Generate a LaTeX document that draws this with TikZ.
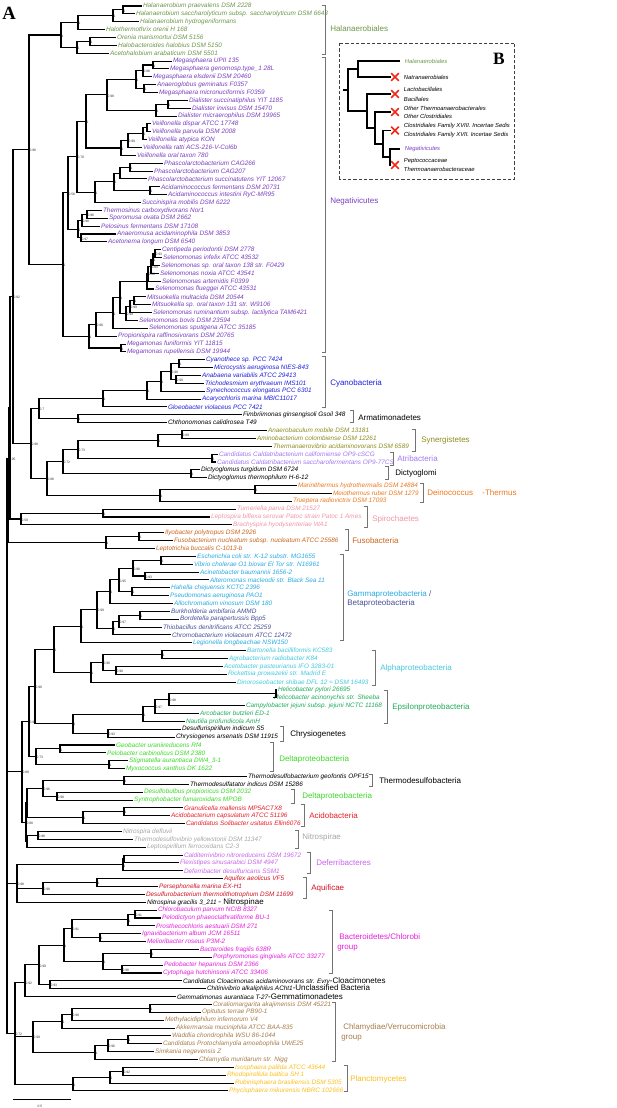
\documentclass[tikz,border=0pt]{standalone}
\usepackage{fontspec}
\setmainfont{Liberation Sans}
\newfontfamily\panelfont{Liberation Serif}
\usetikzlibrary{shapes.misc}
\definecolor{cHal}{RGB}{108,150,72}
\definecolor{cNeg}{RGB}{120,62,190}
\definecolor{cCya}{RGB}{30,30,220}
\definecolor{cSyn}{RGB}{140,140,30}
\definecolor{cAtr}{RGB}{160,120,240}
\definecolor{cDei}{RGB}{235,120,30}
\definecolor{cSpi}{RGB}{240,150,165}
\definecolor{cFus}{RGB}{200,100,30}
\definecolor{cGam}{RGB}{40,170,225}
\definecolor{cBet}{RGB}{70,80,150}
\definecolor{cAlp}{RGB}{70,200,220}
\definecolor{cEps}{RGB}{30,170,90}
\definecolor{cDel}{RGB}{60,215,40}
\definecolor{cAci}{RGB}{230,30,40}
\definecolor{cNit}{RGB}{165,165,165}
\definecolor{cDef}{RGB}{200,100,235}
\definecolor{cAqu}{RGB}{205,20,35}
\definecolor{cBac}{RGB}{230,30,220}
\definecolor{cChl}{RGB}{165,125,75}
\definecolor{cPla}{RGB}{250,190,30}
\definecolor{xred}{RGB}{240,40,20}
\newcommand{\grpsz}{\fontsize{6}{6}\selectfont\upshape}
\tikzset{
  branch/.style={line width=0.8pt, black},
  leaf/.style={anchor=west, inner sep=0.6pt, font=\fontsize{4.8}{4.8}\selectfont\itshape},
  bs/.style={font=\fontsize{2.5}{2.5}\selectfont, inner sep=0.2pt, yshift=-0.7pt, black!80},
  grp/.style={anchor=west, inner sep=0pt, font=\fontsize{6}{6}\selectfont},
  brk/.style={line width=0.6pt, black!55},
  inlab/.style={anchor=west, inner sep=0.5pt, font=\fontsize{4.4}{4.4}\selectfont\itshape},
  ibranch/.style={line width=1.3pt, black},
  ibox/.style={line width=0.75pt, black!75, dash pattern=on 2.5pt off 1.5pt},
  xmark/.style={cross out, draw=xred, line width=1.3pt, minimum size=4.5pt, inner sep=0pt},
  hal/.style={text=cHal}, neg/.style={text=cNeg}, cya/.style={text=cCya},
  syn/.style={text=cSyn}, atr/.style={text=cAtr}, dei/.style={text=cDei},
  spi/.style={text=cSpi}, fus/.style={text=cFus}, gam/.style={text=cGam},
  bet/.style={text=cBet}, alp/.style={text=cAlp}, eps/.style={text=cEps},
  del/.style={text=cDel}, aci/.style={text=cAci}, nit/.style={text=cNit},
  def/.style={text=cDef}, aqu/.style={text=cAqu}, bac/.style={text=cBac},
  chl/.style={text=cChl}, pla/.style={text=cPla}
}
\begin{document}
\begin{tikzpicture}[x=0.75pt, y=-5.8965pt]
\useasboundingbox (0,-0.763) rectangle (617,140.17);
\node[font=\panelfont\bfseries\fontsize{14}{14}\selectfont, inner sep=0pt] (panA) at (9,0.95) {A};

% leaves
\node[leaf,hal] (hPra) at (142,0) {Halanaerobium praevalens DSM 2228};
\node[leaf,hal] (hSac) at (135,1) {Halanaerobium saccharolyticum subsp. saccharolyticum DSM 6643};
\node[leaf,hal] (hHyd) at (139,2) {Halanaerobium hydrogeniformans};
\node[leaf,hal] (hOre) at (105,3) {Halothermothrix orenii H 168};
\node[leaf,hal] (hMar) at (116,4) {Orenia marismortui DSM 5156};
\node[leaf,hal] (hHal) at (117,5) {Halobacteroides halobius DSM 5150};
\node[leaf,hal] (hAce) at (109,6) {Acetohalobium arabaticum DSM 5501};
\node[leaf,neg] (nUPII) at (172,7) {Megasphaera UPII 135};
\node[leaf,neg] (nGen) at (169,8) {Megasphaera genomosp.type\_1 28L};
\node[leaf,neg] (nEls) at (152,9) {Megasphaera elsdenii DSM 20460};
\node[leaf,neg] (nAgl) at (156,10) {Anaeroglobus geminatus F0357};
\node[leaf,neg] (nMic) at (158,11) {Megasphaera micronuciformis F0359};
\node[leaf,neg] (nDsu) at (188,12) {Dialister succinatiphilus YIT 1185};
\node[leaf,neg] (nDin) at (191,13) {Dialister invisus DSM 15470};
\node[leaf,neg] (nDmi) at (177,14) {Dialister micraerophilus DSM 19965};
\node[leaf,neg] (nVdi) at (151,15) {Veillonella dispar ATCC 17748};
\node[leaf,neg] (nVpa) at (151,16) {Veillonella parvula DSM 2008};
\node[leaf,neg] (nVat) at (147,17) {Veillonella atypica KON};
\node[leaf,neg] (nVra) at (142,18) {Veillonella ratti ACS-216-V-Col6b};
\node[leaf,neg] (nVor) at (136,19) {Veillonella oral taxon 780};
\node[leaf,neg] (nP266) at (163,20) {Phascolarctobacterium CAG266};
\node[leaf,neg] (nP207) at (153,21) {Phascolarctobacterium CAG207};
\node[leaf,neg] (nPsu) at (147,22) {Phascolarctobacterium succinatutens YIT 12067};
\node[leaf,neg] (nAfe) at (160,23) {Acidaminococcus fermentans DSM 20731};
\node[leaf,neg] (nAin) at (167,24) {Acidaminococcus intestini RyC-MR95};
\node[leaf,neg] (nSmo) at (141,25) {Succinispira mobilis DSM 6222};
\node[leaf,neg] (nTca) at (102,26) {Thermosinus carboxydivorans Nor1};
\node[leaf,neg] (nSov) at (108,27) {Sporomusa ovata DSM 2662};
\node[leaf,neg] (nPfe) at (100,28) {Pelosinus fermentans DSM 17108};
\node[leaf,neg] (nAac) at (116,29) {Anaeromusa acidaminophila DSM 3853};
\node[leaf,neg] (nAlo) at (107,30) {Acetonema longum DSM 6540};
\node[leaf,neg] (nCpe) at (161,31) {Centipeda periodontii DSM 2778};
\node[leaf,neg] (nSin) at (162,32) {Selenomonas infelix ATCC 43532};
\node[leaf,neg] (nS138) at (160,33) {Selenomonas sp. oral taxon 138 str. F0429};
\node[leaf,neg] (nSno) at (159,34) {Selenomonas noxia ATCC 43541};
\node[leaf,neg] (nSar) at (161,35) {Selenomonas artemidis F0399};
\node[leaf,neg] (nSfl) at (154,36) {Selenomonas flueggei ATCC 43531};
\node[leaf,neg] (nMmu) at (146,37) {Mitsuokella multacida DSM 20544};
\node[leaf,neg] (nM131) at (151,38) {Mitsuokella sp. oral taxon 131 str. W9106};
\node[leaf,neg] (nSru) at (152,39) {Selenomonas ruminantium subsp. lactilytica TAM6421};
\node[leaf,neg] (nSbo) at (138,40) {Selenomonas bovis DSM 23594};
\node[leaf,neg] (nSsp) at (148,41) {Selenomonas sputigena ATCC 35185};
\node[leaf,neg] (nPra) at (117,42) {Propionispira raffinosivorans DSM 20765};
\node[leaf,neg] (nMfu) at (126,43) {Megamonas funiformis YIT 11815};
\node[leaf,neg] (nMru) at (126,44) {Megamonas rupellensis DSM 19944};
\node[leaf,cya] (cCsp) at (205,45) {Cyanothece sp. PCC 7424};
\node[leaf,cya] (cMae) at (213,46) {Microcystis aeruginosa NIES-843};
\node[leaf,cya] (cAva) at (201,47) {Anabaena variabilis ATCC 29413};
\node[leaf,cya] (cTer) at (204,48) {Trichodesmium erythraeum IMS101};
\node[leaf,cya] (cSel) at (205,49) {Synechococcus elongatus PCC 6301};
\node[leaf,cya] (cAma) at (201,50) {Acaryochloris marina MBIC11017};
\node[leaf,cya] (cGvi) at (167,51) {Gloeobacter violaceus PCC 7421};
\node[leaf] (aFgi) at (242,52) {Fimbriimonas ginsengisoli Gsoil 348};
\node[leaf] (aCca) at (167,53) {Chthonomonas calidirosea T49};
\node[leaf,syn] (sAmo) at (267,54) {Anaerobaculum mobile DSM 13181};
\node[leaf,syn] (sAco) at (256,55) {Aminobacterium colombiense DSM 12261};
\node[leaf,syn] (sTac) at (272,56) {Thermanaerovibrio acidaminovorans DSM 6589};
\node[leaf,atr] (tCal) at (218,57) {Candidatus Caldatribacterium californiense OP9-cSCG};
\node[leaf,atr] (tSac) at (216,58) {Candidatus Caldatribacterium saccharofermentans OP9-77CS};
\node[leaf] (dTur) at (200,59) {Dictyoglomus turgidum DSM 6724};
\node[leaf] (dThe) at (207,60) {Dictyoglomus thermophilum H-6-12};
\node[leaf,dei] (dMhy) at (297,61) {Marinithermus hydrothermalis DSM 14884};
\node[leaf,dei] (dMru) at (332,62) {Meiothermus ruber DSM 1279};
\node[leaf,dei] (dTra) at (292,63) {Truepera radiovictrix DSM 17093};
\node[leaf,spi] (sTpa) at (236,64) {Turneriella parva DSM 21527};
\node[leaf,spi] (sLbi) at (210,65) {Leptospira biflexa serovar Patoc strain Patoc 1 Ames};
\node[leaf,spi] (sBhy) at (232,66) {Brachyspira hyodysenteriae WA1};
\node[leaf,fus] (fIpo) at (164,67) {Ilyobacter polytropus DSM 2926};
\node[leaf,fus] (fFnu) at (173,68) {Fusobacterium nucleatum subsp. nucleatum ATCC 25586};
\node[leaf,fus] (fLbu) at (155,69) {Leptotrichia buccalis C-1013-b};
\node[leaf,gam] (gEco) at (196,70) {Escherichia coli str. K-12 substr. MG1655};
\node[leaf,gam] (gVch) at (193,71) {Vibrio cholerae O1 biovar El Tor str. N16961};
\node[leaf,gam] (gAba) at (199,72) {Acinetobacter baumannii 1656-2};
\node[leaf,gam] (gAma) at (209,73) {Alteromonas macleodii str. Black Sea 11};
\node[leaf,gam] (gHch) at (170,74) {Hahella chejuensis KCTC 2396};
\node[leaf,gam] (gPae) at (169,75) {Pseudomonas aeruginosa PAO1};
\node[leaf,gam] (gAvi) at (173,76) {Allochromatium vinosum DSM 180};
\node[leaf,bet] (bBam) at (170,77) {Burkholderia ambifaria AMMD};
\node[leaf,bet] (bBpa) at (179,78) {Bordetella parapertussis Bpp5};
\node[leaf,bet] (bTde) at (162,79) {Thiobacillus denitrificans ATCC 25259};
\node[leaf,bet] (bCvi) at (171,80) {Chromobacterium violaceum ATCC 12472};
\node[leaf,gam] (gLlo) at (192,81) {Legionella longbeachae NSW150};
\node[leaf,alp] (aBba) at (246,82) {Bartonella bacilliformis KC583};
\node[leaf,alp] (aAra) at (228,83) {Agrobacterium radiobacter K84};
\node[leaf,alp] (aApa) at (223,84) {Acetobacter pasteurianus IFO 3283-01};
\node[leaf,alp] (aRpr) at (227,85) {Rickettsia prowazekii str. Madrid E};
\node[leaf,alp] (aDsh) at (236,86) {Dinoroseobacter shibae DFL 12 = DSM 16493};
\node[leaf,eps] (eHpy) at (277,87) {Helicobacter pylori 26695};
\node[leaf,eps] (eHac) at (273,88) {Helicobacter acinonychis str. Sheeba};
\node[leaf,eps] (eCje) at (245,89) {Campylobacter jejuni subsp. jejuni NCTC 11168};
\node[leaf,eps] (eAbu) at (199,90) {Arcobacter butzleri ED-1};
\node[leaf,eps] (eNpr) at (185,91) {Nautilia profundicola AmH};
\node[leaf] (yDin) at (181,92) {Desulfurispirillum indicum S5};
\node[leaf] (yCar) at (175,93) {Chrysiogenes arsenatis DSM 11915};
\node[leaf,del] (dGur) at (115,94) {Geobacter uraniireducens Rf4};
\node[leaf,del] (dPca) at (106,95) {Pelobacter carbinolicus DSM 2380};
\node[leaf,del] (dSau) at (128,96) {Stigmatella aurantiaca DW4\_3-1};
\node[leaf,del] (dMxa) at (125,97) {Myxococcus xanthus DK 1622};
\node[leaf] (oTge) at (247,98) {Thermodesulfobacterium geofontis OPF15};
\node[leaf] (oTin) at (189,99) {Thermodesulfatator indicus DSM 15286};
\node[leaf,del] (dDpr) at (143,100) {Desulfobulbus propionicus DSM 2032};
\node[leaf,del] (dSfu) at (133,101) {Syntrophobacter fumaroxidans MPOB};
\node[leaf,aci] (iGma) at (183,102) {Granulicella mallensis MP5ACTX8};
\node[leaf,aci] (iAca) at (170,103) {Acidobacterium capsulatum ATCC 51196};
\node[leaf,aci] (iSus) at (185,104) {Candidatus Solibacter usitatus Ellin6076};
\node[leaf,nit] (rNde) at (122,105) {Nitrospira defluvii};
\node[leaf,nit] (rTye) at (133,106) {Thermodesulfovibrio yellowstonii DSM 11347};
\node[leaf,nit] (rLfe) at (146,107) {Leptospirillum ferrooxidans C2-3};
\node[leaf,def] (fCni) at (183,108) {Calditerrivibrio nitroreducens DSM 19672};
\node[leaf,def] (fFsi) at (179,109) {Flexistipes sinusarabici DSM 4947};
\node[leaf,def] (fDde) at (183,110) {Deferribacter desulfuricans SSM1};
\node[leaf,aqu] (qAae) at (223,111) {Aquifex aeolicus VF5};
\node[leaf,aqu] (qPma) at (158,112) {Persephonella marina EX-H1};
\node[leaf,aqu] (qDth) at (145,113) {Desulfurobacterium thermolithotrophum DSM 11699};
\node[leaf] (pNgr) at (146,114) {Nitrospina gracilis 3\_211 {\grpsz - Nitrospinae}};
\node[leaf,bac] (bCpa) at (157,115) {Chlorobaculum parvum NCIB 8327};
\node[leaf,bac] (bPph) at (161,116) {Pelodictyon phaeoclathratiforme BU-1};
\node[leaf,bac] (bPae) at (155,117) {Prosthecochloris aestuarii DSM 271};
\node[leaf,bac] (bIal) at (141,118) {Ignavibacterium album JCM 16511};
\node[leaf,bac] (bMro) at (146,119) {Melioribacter roseus P3M-2};
\node[leaf,bac] (bBfr) at (199,120) {Bacteroides fragilis 638R};
\node[leaf,bac] (bPgi) at (212,121) {Porphyromonas gingivalis ATCC 33277};
\node[leaf,bac] (bPhe) at (163,122) {Pedobacter heparinus DSM 2366};
\node[leaf,bac] (bChu) at (162,123) {Cytophaga hutchinsonii ATCC 33406};
\node[leaf] (kCac) at (182,124) {Candidatus Cloacimonas acidaminovorans str. Evry{\grpsz -Cloacimonetes}};
\node[leaf] (kCal) at (206,125) {Chitinivibrio alkaliphilus ACht1{\grpsz -Unclassified Bacteria}};
\node[leaf] (kGau) at (176,126) {Gemmatimonas aurantiaca T-27{\grpsz -Gemmatimonadetes}};
\node[leaf,chl] (vCak) at (212,127) {Coraliomargarita akajimensis DSM 45221};
\node[leaf,chl] (vOte) at (201,128) {Opitutus terrae PB90-1};
\node[leaf,chl] (vMin) at (164,129) {Methylacidiphilum infernorum V4};
\node[leaf,chl] (vAmu) at (175,130) {Akkermansia muciniphila ATCC BAA-835};
\node[leaf,chl] (vWch) at (171,131) {Waddlia chondrophila WSU 86-1044};
\node[leaf,chl] (vPam) at (162,132) {Candidatus Protochlamydia amoebophila UWE25};
\node[leaf,chl] (vSne) at (154,133) {Simkania negevensis Z};
\node[leaf,chl] (vCmu) at (198,134) {Chlamydia muridarum str. Nigg};
\node[leaf,pla] (lIpa) at (234,135) {Isosphaera pallida ATCC 43644};
\node[leaf,pla] (lRba) at (226,136) {Rhodopirellula baltica SH 1};
\node[leaf,pla] (lRbr) at (234,137) {Rubinisphaera brasiliensis DSM 5305};
\node[leaf,pla] (lPmi) at (228,138) {Phycisphaera mikurensis NBRC 102666};

% inner nodes
\coordinate[label={[bs]right:1}] (h1) at (123,0.5);
\coordinate[label={[bs]right:1}] (h2) at (113,1.25);
\coordinate[label={[bs]right:1}] (h3) at (78,2.125);
\coordinate[label={[bs]right:1}] (h4) at (90,4.5);
\coordinate[label={[bs]right:1}] (h5) at (77,5.25);
\coordinate[label={[bs]right:1}] (h6) at (61,3.6875);
\coordinate[label={[bs]right:1}] (m1) at (153,7.5);
\coordinate[label={[bs]right:0.88}] (m2) at (143,8.25);
\coordinate[label={[bs]right:1}] (m3) at (144,10.5);
\coordinate[label={[bs]right:1}] (m4) at (136,9.375);
\coordinate[label={[bs]right:1}] (m5) at (168,12.5);
\coordinate[label={[bs]right:1}] (m6) at (156,13.25);
\coordinate[label={[bs]right:0.98}] (m7) at (107,11.3125);
\coordinate (v1) at (147,15.5);
\coordinate[label={[bs]right:1}] (v2) at (143,16.25);
\coordinate[label={[bs]right:0.99}] (v3) at (128,17.125);
\coordinate[label={[bs]right:1}] (v4) at (121,18.0625);
\coordinate[label={[bs]right:1}] (m8) at (86,14.6875);
\coordinate[label={[bs]right:1}] (p1) at (130,20.5);
\coordinate (p2) at (120,21.25);
\coordinate[label={[bs]right:1}] (a1) at (150,23.5);
\coordinate[label={[bs]right:1}] (p3) at (114,22.375);
\coordinate[label={[bs]right:1}] (p4) at (95,23.6875);
\coordinate[label={[bs]right:0.78}] (n78) at (77,19.1875);
\coordinate[label={[bs]right:0.96}] (s1) at (87,26.5);
\coordinate[label={[bs]right:0.98}] (s2) at (82,27.25);
\coordinate[label={[bs]right:0.97}] (s3) at (81,29.5);
\coordinate[label={[bs]right:1}] (s4) at (78,28.375);
\coordinate[label={[bs]right:0.58}] (n58) at (68,23.78);
\coordinate[label={[bs]right:0.93}] (e1) at (155,31.5);
\coordinate[label={[bs]right:1}] (e2) at (153,32.25);
\coordinate[label={[bs]right:0.84}] (e3) at (151,33.125);
\coordinate[label={[bs]right:0.86}] (e4) at (148,34.06);
\coordinate (e5) at (147,35.03);
\coordinate[label={[bs]right:1}] (k1) at (134,37.5);
\coordinate[label={[bs]right:0.99}] (k2) at (130,38.25);
\coordinate[label={[bs]right:0.99}] (k3) at (126,39.125);
\coordinate[label={[bs]right:1}] (e6) at (120,37.08);
\coordinate[label={[bs]right:1}] (e7) at (113,39.04);
\coordinate[label={[bs]right:0.98}] (e8) at (96,40.52);
\coordinate[label={[bs]right:1}] (k4) at (121,43.5);
\coordinate[label={[bs]right:1}] (e9) at (89,42.01);
\coordinate[label={[bs]right:1}] (negR) at (63,32.9);
\coordinate[label={[bs]right:0.98}] (N1) at (29,18.29);
\coordinate[label={[bs]right:1}] (c1) at (179,45.5);
\coordinate[label={[bs]right:0.99}] (c2) at (176,47.5);
\coordinate[label={[bs]right:0.98}] (c3) at (171,46.5);
\coordinate[label={[bs]right:1}] (c4) at (161,47.75);
\coordinate[label={[bs]right:1}] (c5) at (147,48.875);
\coordinate[label={[bs]right:1}] (c6) at (103,49.94);
\coordinate[label={[bs]right:1}] (ar) at (78,52.5);
\coordinate[label={[bs]right:0.7}] (ca) at (39,51.22);
\coordinate[label={[bs]right:0.89}] (y1) at (182,54.5);
\coordinate[label={[bs]right:1}] (y2) at (158,55.25);
\coordinate[label={[bs]right:1}] (t1) at (212,57.5);
\coordinate[label={[bs]right:0.73}] (n73) at (78,56.375);
\coordinate[label={[bs]right:1}] (d1) at (191,59.5);
\coordinate[label={[bs]right:0.72}] (n72) at (63,57.94);
\coordinate[label={[bs]right:1}] (de1) at (255,61.5);
\coordinate[label={[bs]right:1}] (de2) at (160,62.25);
\coordinate[label={[bs]right:0.88}] (n88) at (47,60.09);
\coordinate[label={[bs]right:0.98}] (B) at (31,55.66);
\coordinate[label={[bs]right:0.82}] (n82) at (13,36.97);
\coordinate[label={[bs]right:1}] (sp1) at (103,64.5);
\coordinate[label={[bs]right:0.59}] (sp2) at (21,65.25);
\coordinate[label={[bs]right:1}] (fu1) at (139,67.5);
\coordinate[label={[bs]right:1}] (fu2) at (106,68.25);
\coordinate (R1a) at (10,51.11);
\coordinate[label={[bs]right:0.95}] (R1) at (8.5,57.5);
\coordinate[label={[bs]right:1}] (g1) at (161,70.5);
\coordinate[label={[bs]right:0.93}] (g2) at (145,72.5);
\coordinate[label={[bs]right:0.98}] (g3) at (133,71.5);
\coordinate[label={[bs]right:1}] (g4) at (132,74.5);
\coordinate[label={[bs]right:0.95}] (g5) at (119,73);
\coordinate[label={[bs]right:1}] (g6) at (110,74.5);
\coordinate[label={[bs]right:1}] (b1) at (140,77.5);
\coordinate[label={[bs]right:0.97}] (b2) at (119,78.25);
\coordinate[label={[bs]right:1}] (b3) at (113,79.125);
\coordinate[label={[bs]right:0.99}] (g10) at (97,76.81);
\coordinate[label={[bs]right:1}] (g11) at (81,78.91);
\coordinate[label={[bs]right:1}] (al1) at (162,82.5);
\coordinate[label={[bs]right:0.98}] (al2) at (116,84.5);
\coordinate[label={[bs]right:0.98}] (al3) at (103,83.5);
\coordinate[label={[bs]right:1}] (al4) at (91,84.75);
\coordinate[label={[bs]right:1}] (ga) at (54,81.83);
\coordinate[label={[bs]right:1}] (ep1) at (276,87.5);
\coordinate[label={[bs]right:0.98}] (ep2) at (169,88.25);
\coordinate[label={[bs]right:0.97}] (ep3) at (155,89.125);
\coordinate[label={[bs]right:1}] (ep4) at (143,90.06);
\coordinate[label={[bs]right:0.93}] (ch1) at (108,92.5);
\coordinate[label={[bs]right:1}] (ec) at (73,91.28);
\coordinate[label={[bs]right:0.98}] (pr1) at (35,86.56);
\coordinate[label={[bs]right:1}] (dl1) at (60,94.5);
\coordinate[label={[bs]right:1}] (dl2) at (109,96.5);
\coordinate[label={[bs]right:0.73}] (d3) at (36,95.5);
\coordinate[label={[bs]right:0.98}] (pr2) at (29,91.03);
\coordinate[label={[bs]right:1}] (th1) at (124,98.5);
\coordinate[label={[bs]right:0.98}] (dl3) at (57,100.5);
\coordinate[label={[bs]right:0.96}] (td) at (43,99.5);
\coordinate[label={[bs]right:1}] (ac1) at (124,102.5);
\coordinate[label={[bs]right:1}] (ac2) at (83,103.25);
\coordinate (TA) at (27,101.375);
\coordinate[label={[bs]right:0.98}] (ni1) at (38,105.5);
\coordinate (ni2) at (27,106.25);
\coordinate[label={[bs]right:0.88}] (Q) at (26,103.81);
\coordinate[label={[bs]right:0.88}] (P) at (22,97.42);
\coordinate (df1) at (124,108.5);
\coordinate[label={[bs]right:1}] (df2) at (123,109.25);
\coordinate[label={[bs]right:1}] (aq1) at (97,111.5);
\coordinate[label={[bs]right:0.98}] (aq2) at (43,112.25);
\coordinate[label={[bs]right:0.98}] (S) at (17,111.6);
\coordinate[label={[bs]right:0.91}] (bc1) at (135,115.5);
\coordinate[label={[bs]right:1}] (bc2) at (128,116.25);
\coordinate[label={[bs]right:1}] (bc3) at (100,118.5);
\coordinate[label={[bs]right:0.91}] (bc4) at (72,117.375);
\coordinate[label={[bs]right:1}] (bc5) at (151,120.5);
\coordinate[label={[bs]right:0.98}] (bc6) at (122,122.5);
\coordinate[label={[bs]right:1}] (bc7) at (103,121.5);
\coordinate[label={[bs]right:1}] (bc8) at (64,119.44);
\coordinate[label={[bs]right:0.93}] (kc) at (50,124.5);
\coordinate[label={[bs]right:0.99}] (kb) at (39,121.97);
\coordinate[label={[bs]right:0.92}] (kg) at (25,124.23);
\coordinate[label={[bs]right:1}] (vc1) at (150,127.5);
\coordinate[label={[bs]right:0.98}] (vc2) at (72,128.25);
\coordinate[label={[bs]right:1}] (vc3) at (62,129.125);
\coordinate[label={[bs]right:1}] (vc4) at (128,131.5);
\coordinate[label={[bs]right:0.96}] (vc5) at (108,132.25);
\coordinate[label={[bs]right:1}] (vc6) at (95,133.125);
\coordinate[label={[bs]right:0.99}] (cv) at (33,131.125);
\coordinate[label={[bs]right:0.92}] (pl1) at (123,135.5);
\coordinate[label={[bs]right:1}] (pl2) at (110,136.25);
\coordinate[label={[bs]right:1}] (pl3) at (73,137.125);
\coordinate[label={[bs]right:0.72}] (Z) at (15,130.68);
\coordinate (R0) at (7,94.1);

% branches
\foreach \a/\b in {h1/hPra,h1/hSac,h2/h1,h2/hHyd,h3/h2,h3/hOre,h4/hMar,h4/hHal,h5/h4,h5/hAce,h6/h3,h6/h5,
  m1/nUPII,m1/nGen,m2/m1,m2/nEls,m3/nAgl,m3/nMic,m4/m2,m4/m3,m5/nDsu,m5/nDin,m6/m5,m6/nDmi,m7/m4,m7/m6,
  v1/nVdi,v1/nVpa,v2/v1,v2/nVat,v3/v2,v3/nVra,v4/v3,v4/nVor,m8/m7,m8/v4,p1/nP266,p1/nP207,p2/p1,p2/nPsu,
  a1/nAfe,a1/nAin,p3/p2,p3/a1,p4/p3,p4/nSmo,n78/m8,n78/p4,s1/nTca,s1/nSov,s2/s1,s2/nPfe,s3/nAac,s3/nAlo,
  s4/s2,s4/s3,n58/n78,n58/s4,e1/nCpe,e1/nSin,e2/e1,e2/nS138,e3/e2,e3/nSno,e4/e3,e4/nSar,e5/e4,e5/nSfl,
  k1/nMmu,k1/nM131,k2/k1,k2/nSru,k3/k2,k3/nSbo,e6/e5,e6/k3,e7/e6,e7/nSsp,e8/e7,e8/nPra,k4/nMfu,k4/nMru,
  e9/e8,e9/k4,negR/n58,negR/e9,N1/h6,N1/negR,
  c1/cCsp,c1/cMae,c2/cAva,c2/cTer,c3/c1,c3/c2,c4/c3,c4/cSel,c5/c4,c5/cAma,c6/c5,c6/cGvi,ar/aFgi,ar/aCca,
  ca/c6,ca/ar,y1/sAmo,y1/sAco,y2/y1,y2/sTac,t1/tCal,t1/tSac,n73/y2,n73/t1,d1/dTur,d1/dThe,n72/n73,n72/d1,
  de1/dMhy,de1/dMru,de2/de1,de2/dTra,n88/n72,n88/de2,B/ca,B/n88,n82/N1,n82/B,
  sp1/sTpa,sp1/sLbi,sp2/sp1,sp2/sBhy,fu1/fIpo,fu1/fFnu,fu2/fu1,fu2/fLbu,R1a/n82,R1a/sp2,R1/R1a,R1/fu2,
  g1/gEco,g1/gVch,g2/gAba,g2/gAma,g3/g1,g3/g2,g4/gHch,g4/gPae,g5/g3,g5/g4,g6/g5,g6/gAvi,b1/bBam,b1/bBpa,
  b2/b1,b2/bTde,b3/b2,b3/bCvi,g10/g6,g10/b3,g11/g10,g11/gLlo,al1/aBba,al1/aAra,al2/aApa,al2/aRpr,al3/al1,
  al3/al2,al4/al3,al4/aDsh,ga/g11,ga/al4,ep1/eHpy,ep1/eHac,ep2/ep1,ep2/eCje,ep3/ep2,ep3/eAbu,ep4/ep3,
  ep4/eNpr,ch1/yDin,ch1/yCar,ec/ep4,ec/ch1,pr1/ga,pr1/ec,dl1/dGur,dl1/dPca,dl2/dSau,dl2/dMxa,d3/dl1,d3/dl2,
  pr2/pr1,pr2/d3,th1/oTge,th1/oTin,dl3/dDpr,dl3/dSfu,td/th1,td/dl3,ac1/iGma,ac1/iAca,ac2/ac1,ac2/iSus,
  TA/td,TA/ac2,ni1/rNde,ni1/rTye,ni2/ni1,ni2/rLfe,Q/TA,Q/ni2,P/pr2,P/Q,df1/fCni,df1/fFsi,df2/df1,df2/fDde,
  aq1/qAae,aq1/qPma,aq2/aq1,aq2/qDth,S/df2,S/aq2,S/pNgr,
  bc1/bCpa,bc1/bPph,bc2/bc1,bc2/bPae,bc3/bIal,bc3/bMro,bc4/bc2,bc4/bc3,bc5/bBfr,bc5/bPgi,bc6/bPhe,bc6/bChu,
  bc7/bc5,bc7/bc6,bc8/bc4,bc8/bc7,kc/kCac,kc/kCal,kb/bc8,kb/kc,kg/kb,kg/kGau,
  vc1/vCak,vc1/vOte,vc2/vc1,vc2/vMin,vc3/vc2,vc3/vAmu,vc4/vWch,vc4/vPam,vc5/vc4,vc5/vSne,vc6/vc5,vc6/vCmu,
  cv/vc3,cv/vc6,pl1/lIpa,pl1/lRba,pl2/pl1,pl2/lRbr,pl3/pl2,pl3/lPmi,Z/kg,Z/cv,Z/pl3,
  R0/R1,R0/P,R0/S,R0/Z}
  \draw[branch] (\a) |- (\b);

% scale bar
\coordinate (sbL) at (13,139.03);
\coordinate (sbR) at (71,139.03);
\draw[branch] (sbL) -- (sbR);
\node[bs] (sbT) at (40,139.9) {0.5};

% clade brackets
\draw[brk] (322,-0.1) -| (325,6.1) -- (322,6.1);
\node[grp,text=cHal] (gHal) at (330,2.93) {Halanaerobiales};
\draw[brk] (322,6.6) -| (325,44.0) -- (322,44.0);
\node[grp,text=cNeg] (gNeg) at (330,24.8) {Negativicutes};
\draw[brk] (322,44.6) -| (325,51.0) -- (322,51.0);
\node[grp,text=cCya] (gCya) at (330,48) {Cyanobacteria};
\draw[brk] (350,51.5) -| (353,53.0) -- (350,53.0);
\node[grp] (gArm) at (358,52.3) {Armatimonadetes};
\draw[brk] (412,53.9) -| (415,56.6) -- (412,56.6);
\node[grp,text=cSyn] (gSyn) at (421,55.3) {Synergistetes};
\draw[brk] (390,56.8) -| (393,58.4) -- (390,58.4);
\node[grp,text=cAtr] (gAtr) at (397,57.6) {Atribacteria};
\draw[brk] (385,58.6) -| (388,60.2) -- (385,60.2);
\node[grp] (gDic) at (395,59.5) {Dictyoglomi};
\draw[brk] (420,60.7) -| (423,63.2) -- (420,63.2);
\node[grp,text=cDei] (gDei) at (427,61.9) {Deinococcus\hspace{7pt}-Thermus};
\draw[brk] (364,63.7) -| (367,66.3) -- (364,66.3);
\node[grp,text=cSpi] (gSpi) at (372,65.3) {Spirochaetes};
\draw[brk] (345,66.6) -| (348,69.3) -- (345,69.3);
\node[grp,text=cFus] (gFus) at (352,68) {Fusobacteria};
\draw[brk] (340,69.7) -| (343,80.7) -- (340,80.7);
\node[grp,text=cGam] (gGam) at (347,74.8) {Gammaproteobacteria \textcolor{cBet}{/}};
\node[grp,text=cBet] (gBet) at (347,75.95) {Betaproteobacteria};
\draw[brk] (372,82.0) -| (375,86.4) -- (372,86.4);
\node[grp,text=cAlp] (gAlp) at (380,84.3) {Alphaproteobacteria};
\draw[brk] (384,87.0) -| (387,91.2) -- (384,91.2);
\node[grp,text=cEps] (gEps) at (392,89.2) {Epsilonproteobacteria};
\draw[brk] (280,91.6) -| (283,93.5) -- (280,93.5);
\node[grp] (gChr) at (290,92.6) {Chrysiogenetes};
\draw[brk] (270,93.7) -| (273,97.3) -- (270,97.3);
\node[grp,text=cDel] (gDel) at (279,95.8) {Deltaproteobacteria};
\draw[brk] (369,97.7) -| (372,99.3) -- (369,99.3);
\node[grp] (gTde) at (379,98.5) {Thermodesulfobacteria};
\draw[brk] (291,99.6) -| (294,101.4) -- (291,101.4);
\node[grp,text=cDel] (gDel2) at (302,100.5) {Deltaproteobacteria};
\draw[brk] (301,101.6) -| (304,104.3) -- (301,104.3);
\node[grp,text=cAci] (gAci) at (309,103) {Acidobacteria};
\draw[brk] (295,104.8) -| (298,107.1) -- (295,107.1);
\node[grp,text=cNit] (gNit) at (302,105.8) {Nitrospirae};
\draw[brk] (307,107.6) -| (310,110.3) -- (307,110.3);
\node[grp,text=cDef] (gDef) at (316,109) {Deferribacteres};
\draw[brk] (303,110.8) -| (306,113.5) -- (303,113.5);
\node[grp,text=cAqu] (gAqu) at (311,112.2) {Aquificae};
\draw[brk] (329,115.0) -| (332,123.1) -- (329,123.1);
\node[grp,text=cBac] (gBac) at (339,118.4) {Bacteroidetes/Chlorobi};
\node[grp,text=cBac] (gBac2) at (337,119.8) {group};
\draw[brk] (332,126.7) -| (335,134.2) -- (332,134.2);
\node[grp,text=cChl] (gChl) at (343,129.9) {Chlamydiae/Verrucomicrobia};
\node[grp,text=cChl] (gChl2) at (341,131.3) {group};
\draw[brk] (344,134.7) -| (347,138.1) -- (344,138.1);
\node[grp,text=cPla] (gPla) at (350,136.5) {Planctomycetes};

% panel B
\begin{scope}[y=-0.75pt, yshift=4.5pt]
\draw[ibox] (340,43) rectangle (515,179);
\node[font=\panelfont\bfseries\fontsize{13}{13}\selectfont, inner sep=0pt] (panB) at (499,59) {B};
\coordinate (iStub) at (343,90);
\coordinate (iR) at (348,90);
\coordinate (iA) at (358,69);
\coordinate (iC1) at (367,110.9);
\coordinate (iC2) at (375,127.9);
\coordinate (iC3) at (383,143.75);
\coordinate (iC4) at (390,157);
\node[inlab,text=cHal] (iHal) at (400,61) {\hspace{3pt}Halanaerobiales};
\node[inlab,text=cNeg] (iNeg) at (400,149) {\hspace{3pt}Negativicutes};
\node[xmark] (xNat) at (395,77) {};
\node[xmark] (xLB) at (395,94) {};
\node[xmark] (xOT) at (395,112) {};
\node[xmark] (xCF) at (395,130.5) {};
\node[xmark] (xPT) at (395,165) {};
\node[inlab] (lNat) at (403,77) {Natranaerobiales};
\node[inlab] (lLac) at (403,89) {Lactobacillales};
\node[inlab] (lBac) at (403,99) {Bacillales};
\node[inlab] (lOT) at (403,108) {Other Thermoanaerobacterales};
\node[inlab] (lOC) at (403,116) {Other Clostridiales};
\node[inlab] (lC18) at (403,126) {Clostridiales Family XVIII. Incertae Sedis};
\node[inlab] (lC17) at (403,135) {Clostridiales Family XVII. Incertae Sedis};
\node[inlab] (lPep) at (403,161) {Peptococcaceae};
\node[inlab] (lThe) at (403,169) {Thermoanaerobacteraceae};
\draw[ibranch] (iStub) -- (iR);
\foreach \a/\b in {iR/iA,iR/iC1,iA/iHal,iA/xNat,iC1/xLB,iC1/iC2,iC2/xOT,iC2/iC3,iC3/xCF,iC3/iC4,iC4/iNeg,iC4/xPT}
  \draw[ibranch] (\a) |- (\b);
\end{scope}
\end{tikzpicture}
\end{document}
